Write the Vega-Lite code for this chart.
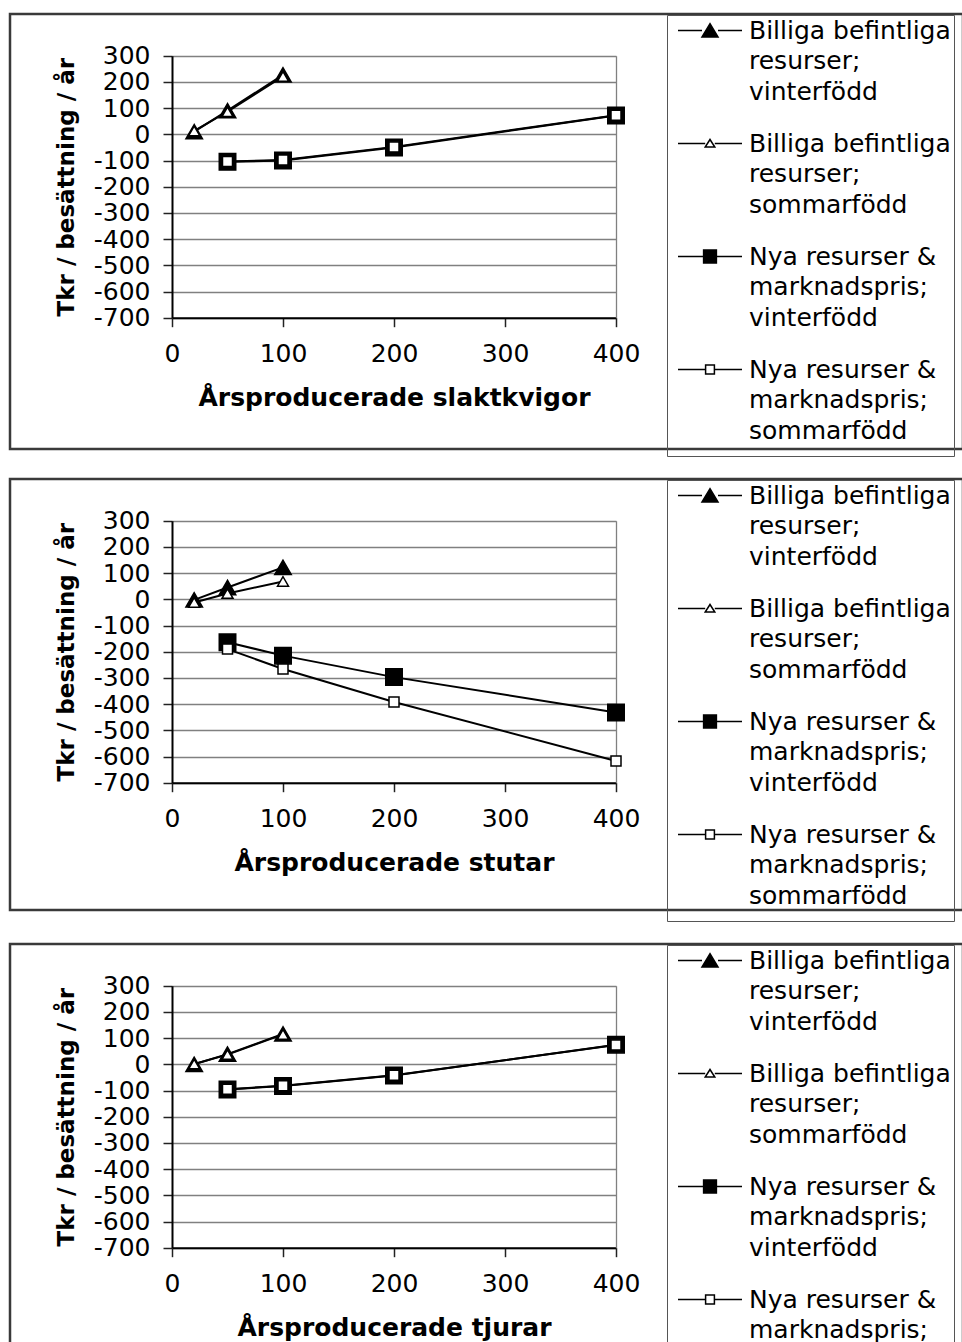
{
  "$schema": "https://vega.github.io/schema/vega-lite/v6.json",
  "background": "white",
  "padding": {"left": 8, "top": 12, "right": 0, "bottom": 0},
  "spacing": 19,
  "resolve": {"scale": {"shape": "independent", "fill": "independent", "stroke": "independent"}, "legend": {"shape": "independent", "fill": "independent", "stroke": "independent"}},
  "config": {
    "font": "DejaVu Sans",
    "view": {"stroke": "#3a3a3a", "strokeWidth": 2.5},
    "style": {"guide-label": {"lineHeight": 30.5}},
    "axis": {
      "labelFont": "DejaVu Sans",
      "labelFontSize": 25,
      "labelColor": "black",
      "labelFlush": false,
      "labelOverlap": false,
      "titleFont": "DejaVu Sans",
      "titleFontWeight": "bold",
      "titleColor": "black",
      "domainColor": "black",
      "domainWidth": 2,
      "tickColor": "#222",
      "tickWidth": 1.5,
      "tickSize": 9,
      "gridColor": "#808080",
      "gridWidth": 1.3
    }
  },
  "datasets": {
    "slaktkvigor": [
      {"serie": "Billiga befintliga resurser; vinterfödd", "antal": 20, "tkr": 10},
      {"serie": "Billiga befintliga resurser; vinterfödd", "antal": 50, "tkr": 90},
      {"serie": "Billiga befintliga resurser; vinterfödd", "antal": 100, "tkr": 227},
      {"serie": "Billiga befintliga resurser; sommarfödd", "antal": 20, "tkr": 13},
      {"serie": "Billiga befintliga resurser; sommarfödd", "antal": 50, "tkr": 86},
      {"serie": "Billiga befintliga resurser; sommarfödd", "antal": 100, "tkr": 221},
      {"serie": "Nya resurser & marknadspris; vinterfödd", "antal": 50, "tkr": -105},
      {"serie": "Nya resurser & marknadspris; vinterfödd", "antal": 100, "tkr": -100},
      {"serie": "Nya resurser & marknadspris; vinterfödd", "antal": 200, "tkr": -50},
      {"serie": "Nya resurser & marknadspris; vinterfödd", "antal": 400, "tkr": 72},
      {"serie": "Nya resurser & marknadspris; sommarfödd", "antal": 50, "tkr": -104},
      {"serie": "Nya resurser & marknadspris; sommarfödd", "antal": 100, "tkr": -98},
      {"serie": "Nya resurser & marknadspris; sommarfödd", "antal": 200, "tkr": -48},
      {"serie": "Nya resurser & marknadspris; sommarfödd", "antal": 400, "tkr": 73}
    ],
    "stutar": [
      {"serie": "Billiga befintliga resurser; vinterfödd", "antal": 20, "tkr": -2},
      {"serie": "Billiga befintliga resurser; vinterfödd", "antal": 50, "tkr": 45},
      {"serie": "Billiga befintliga resurser; vinterfödd", "antal": 100, "tkr": 122},
      {"serie": "Billiga befintliga resurser; sommarfödd", "antal": 20, "tkr": -12},
      {"serie": "Billiga befintliga resurser; sommarfödd", "antal": 50, "tkr": 22},
      {"serie": "Billiga befintliga resurser; sommarfödd", "antal": 100, "tkr": 68},
      {"serie": "Nya resurser & marknadspris; vinterfödd", "antal": 50, "tkr": -164},
      {"serie": "Nya resurser & marknadspris; vinterfödd", "antal": 100, "tkr": -215},
      {"serie": "Nya resurser & marknadspris; vinterfödd", "antal": 200, "tkr": -297},
      {"serie": "Nya resurser & marknadspris; vinterfödd", "antal": 400, "tkr": -432},
      {"serie": "Nya resurser & marknadspris; sommarfödd", "antal": 50, "tkr": -190},
      {"serie": "Nya resurser & marknadspris; sommarfödd", "antal": 100, "tkr": -266},
      {"serie": "Nya resurser & marknadspris; sommarfödd", "antal": 200, "tkr": -392},
      {"serie": "Nya resurser & marknadspris; sommarfödd", "antal": 400, "tkr": -617}
    ],
    "tjurar": [
      {"serie": "Billiga befintliga resurser; vinterfödd", "antal": 20, "tkr": 0},
      {"serie": "Billiga befintliga resurser; vinterfödd", "antal": 50, "tkr": 39},
      {"serie": "Billiga befintliga resurser; vinterfödd", "antal": 100, "tkr": 116},
      {"serie": "Billiga befintliga resurser; sommarfödd", "antal": 20, "tkr": 1},
      {"serie": "Billiga befintliga resurser; sommarfödd", "antal": 50, "tkr": 37},
      {"serie": "Billiga befintliga resurser; sommarfödd", "antal": 100, "tkr": 114},
      {"serie": "Nya resurser & marknadspris; vinterfödd", "antal": 50, "tkr": -96},
      {"serie": "Nya resurser & marknadspris; vinterfödd", "antal": 100, "tkr": -83},
      {"serie": "Nya resurser & marknadspris; vinterfödd", "antal": 200, "tkr": -43},
      {"serie": "Nya resurser & marknadspris; vinterfödd", "antal": 400, "tkr": 75},
      {"serie": "Nya resurser & marknadspris; sommarfödd", "antal": 50, "tkr": -95},
      {"serie": "Nya resurser & marknadspris; sommarfödd", "antal": 100, "tkr": -82},
      {"serie": "Nya resurser & marknadspris; sommarfödd", "antal": 200, "tkr": -42},
      {"serie": "Nya resurser & marknadspris; sommarfödd", "antal": 400, "tkr": 74}
    ]
  },
  "vconcat": [
    {
      "width": 953,
      "height": 435,
      "data": {"name": "slaktkvigor"},
      "encoding": {
        "x": {"field": "antal", "type": "quantitative", "scale": {"domain": [0, 400], "range": [162, 606], "nice": false, "zero": false},
              "axis": {"title": "Årsproducerade slaktkvigor", "offset": -131.3, "values": [0, 100, 200, 300, 400], "grid": false, "labelPadding": 15, "titlePadding": 19, "titleFontSize": 25}}
      },
      "layer": [
        {
          "mark": {"type": "line", "color": "black", "strokeWidth": 2},
          "encoding": {
            "detail": {"field": "serie"},
            "y": {"field": "tkr", "type": "quantitative", "scale": {"domain": [-700, 300], "range": [303.7, 41.7], "nice": false, "zero": false},
                  "axis": {"title": "Tkr / besättning / år", "offset": -162, "values": [-700, -600, -500, -400, -300, -200, -100, 0, 100, 200, 300], "labelExpr": "'' + datum.value", "labelPadding": 13, "titlePadding": 15, "titleFontSize": 23}}
          }
        },
        {
          "transform": [{"filter": "datum.serie === 'Billiga befintliga resurser; vinterfödd'"}],
          "mark": {"type": "point", "shape": "triangle-up", "size": 272, "filled": true, "fill": "black", "opacity": 1, "stroke": "black", "strokeWidth": 1.5},
          "encoding": {
            "y": {"field": "tkr", "type": "quantitative",
                  "axis": {"orient": "right", "offset": -347, "title": null, "labels": false, "ticks": false, "grid": false, "domainColor": "#808080", "domainWidth": 1.3}}
          }
        },
        {
          "transform": [{"filter": "datum.serie === 'Billiga befintliga resurser; sommarfödd'"}],
          "mark": {"type": "point", "shape": "triangle-up", "size": 121, "filled": true, "fill": "white", "opacity": 1, "stroke": "black", "strokeWidth": 1.5},
          "encoding": {"y": {"field": "tkr", "type": "quantitative", "axis": null}}
        },
        {
          "transform": [{"filter": "datum.serie === 'Nya resurser & marknadspris; vinterfödd'"}],
          "mark": {"type": "point", "shape": "square", "size": 272, "filled": true, "fill": "black", "opacity": 1, "stroke": "black", "strokeWidth": 1.5},
          "encoding": {"y": {"field": "tkr", "type": "quantitative", "axis": null}}
        },
        {
          "transform": [{"filter": "datum.serie === 'Nya resurser & marknadspris; sommarfödd'"}],
          "mark": {"type": "point", "shape": "square", "size": 100, "filled": true, "fill": "white", "opacity": 1, "stroke": "black", "strokeWidth": 1.5},
          "encoding": {"y": {"field": "tkr", "type": "quantitative", "axis": null}}
        },
        {
          "mark": {"type": "point", "filled": true, "opacity": 0, "strokeWidth": 1.5},
          "encoding": {
            "y": {"field": "tkr", "type": "quantitative", "axis": null},
            "shape": {"field": "serie", "type": "nominal",
              "scale": {"domain": ["Billiga befintliga resurser; vinterfödd", "Billiga befintliga resurser; sommarfödd", "Nya resurser & marknadspris; vinterfödd", "Nya resurser & marknadspris; sommarfödd"],
                        "range": ["M0,-2.75M0,9.94M-4,0H-1M1,0H4M0,-0.85L1,0.8L-1,0.8Z", "M0,-2.75M0,9.94M-4,0H-0.6M0.6,0H4M0,-0.5L0.6,0.45L-0.6,0.45Z", "M0,-2.75M0,9.94M-4,0H-0.8M0.8,0H4M-0.8,-0.8H0.8V0.8H-0.8Z", "M0,-2.75M0,9.94M-4,0H-0.55M0.55,0H4M-0.55,-0.55H0.55V0.55H-0.55Z"]},
              "legend": {"title": null, "orient": "none", "legendX": 657, "legendY": 1, "padding": 3, "strokeColor": "#555", "labelFont": "DejaVu Sans", "labelFontSize": 25, "labelColor": "black", "labelLimit": 400, "labelBaseline": "middle", "rowPadding": 4, "symbolSize": 256, "symbolStrokeWidth": 1.5, "symbolOpacity": 1, "symbolOffset": 27.5, "labelOffset": 26.5,
                "labelExpr": "[slice(datum.label, 0, lastindexof(slice(datum.label, 0, indexof(datum.label, ';')), ' ')), slice(datum.label, lastindexof(slice(datum.label, 0, indexof(datum.label, ';')), ' ') + 1, indexof(datum.label, ';') + 1), slice(datum.label, indexof(datum.label, ';') + 2)]"}
            },
            "fill": {"field": "serie", "type": "nominal",
              "scale": {"domain": ["Billiga befintliga resurser; vinterfödd", "Billiga befintliga resurser; sommarfödd", "Nya resurser & marknadspris; vinterfödd", "Nya resurser & marknadspris; sommarfödd"], "range": ["black", "white", "black", "white"]},
              "legend": {"title": null, "orient": "none", "legendX": 657, "legendY": 1, "padding": 3, "strokeColor": "#555", "labelFont": "DejaVu Sans", "labelFontSize": 25, "labelColor": "black", "labelLimit": 400, "labelBaseline": "middle", "rowPadding": 4, "symbolSize": 256, "symbolStrokeWidth": 1.5, "symbolOpacity": 1, "symbolOffset": 27.5, "labelOffset": 26.5,
                "labelExpr": "[slice(datum.label, 0, lastindexof(slice(datum.label, 0, indexof(datum.label, ';')), ' ')), slice(datum.label, lastindexof(slice(datum.label, 0, indexof(datum.label, ';')), ' ') + 1, indexof(datum.label, ';') + 1), slice(datum.label, indexof(datum.label, ';') + 2)]"}
            },
            "stroke": {"field": "serie", "type": "nominal",
              "scale": {"domain": ["Billiga befintliga resurser; vinterfödd", "Billiga befintliga resurser; sommarfödd", "Nya resurser & marknadspris; vinterfödd", "Nya resurser & marknadspris; sommarfödd"], "range": ["black", "black", "black", "black"]},
              "legend": {"title": null, "orient": "none", "legendX": 657, "legendY": 1, "padding": 3, "strokeColor": "#555", "labelFont": "DejaVu Sans", "labelFontSize": 25, "labelColor": "black", "labelLimit": 400, "labelBaseline": "middle", "rowPadding": 4, "symbolSize": 256, "symbolStrokeWidth": 1.5, "symbolOpacity": 1, "symbolOffset": 27.5, "labelOffset": 26.5,
                "labelExpr": "[slice(datum.label, 0, lastindexof(slice(datum.label, 0, indexof(datum.label, ';')), ' ')), slice(datum.label, lastindexof(slice(datum.label, 0, indexof(datum.label, ';')), ' ') + 1, indexof(datum.label, ';') + 1), slice(datum.label, indexof(datum.label, ';') + 2)]"}
            }
          }
        }
      ],
      "resolve": {"axis": {"y": "independent"}}
    },
    {
      "width": 953,
      "height": 431,
      "data": {"name": "stutar"},
      "encoding": {
        "x": {"field": "antal", "type": "quantitative", "scale": {"domain": [0, 400], "range": [162, 606], "nice": false, "zero": false},
              "axis": {"title": "Årsproducerade stutar", "offset": -127.3, "values": [0, 100, 200, 300, 400], "grid": false, "labelPadding": 15, "titlePadding": 19, "titleFontSize": 25}}
      },
      "layer": [
        {
          "mark": {"type": "line", "color": "black", "strokeWidth": 2},
          "encoding": {
            "detail": {"field": "serie"},
            "y": {"field": "tkr", "type": "quantitative", "scale": {"domain": [-700, 300], "range": [303.7, 41.7], "nice": false, "zero": false},
                  "axis": {"title": "Tkr / besättning / år", "offset": -162, "values": [-700, -600, -500, -400, -300, -200, -100, 0, 100, 200, 300], "labelExpr": "'' + datum.value", "labelPadding": 13, "titlePadding": 15, "titleFontSize": 23}}
          }
        },
        {
          "transform": [{"filter": "datum.serie === 'Billiga befintliga resurser; vinterfödd'"}],
          "mark": {"type": "point", "shape": "triangle-up", "size": 272, "filled": true, "fill": "black", "opacity": 1, "stroke": "black", "strokeWidth": 1.5},
          "encoding": {
            "y": {"field": "tkr", "type": "quantitative",
                  "axis": {"orient": "right", "offset": -347, "title": null, "labels": false, "ticks": false, "grid": false, "domainColor": "#808080", "domainWidth": 1.3}}
          }
        },
        {
          "transform": [{"filter": "datum.serie === 'Billiga befintliga resurser; sommarfödd'"}],
          "mark": {"type": "point", "shape": "triangle-up", "size": 121, "filled": true, "fill": "white", "opacity": 1, "stroke": "black", "strokeWidth": 1.5},
          "encoding": {"y": {"field": "tkr", "type": "quantitative", "axis": null}}
        },
        {
          "transform": [{"filter": "datum.serie === 'Nya resurser & marknadspris; vinterfödd'"}],
          "mark": {"type": "point", "shape": "square", "size": 272, "filled": true, "fill": "black", "opacity": 1, "stroke": "black", "strokeWidth": 1.5},
          "encoding": {"y": {"field": "tkr", "type": "quantitative", "axis": null}}
        },
        {
          "transform": [{"filter": "datum.serie === 'Nya resurser & marknadspris; sommarfödd'"}],
          "mark": {"type": "point", "shape": "square", "size": 100, "filled": true, "fill": "white", "opacity": 1, "stroke": "black", "strokeWidth": 1.5},
          "encoding": {"y": {"field": "tkr", "type": "quantitative", "axis": null}}
        },
        {
          "mark": {"type": "point", "filled": true, "opacity": 0, "strokeWidth": 1.5},
          "encoding": {
            "y": {"field": "tkr", "type": "quantitative", "axis": null},
            "shape": {"field": "serie", "type": "nominal",
              "scale": {"domain": ["Billiga befintliga resurser; vinterfödd", "Billiga befintliga resurser; sommarfödd", "Nya resurser & marknadspris; vinterfödd", "Nya resurser & marknadspris; sommarfödd"],
                        "range": ["M0,-2.75M0,9.94M-4,0H-1M1,0H4M0,-0.85L1,0.8L-1,0.8Z", "M0,-2.75M0,9.94M-4,0H-0.6M0.6,0H4M0,-0.5L0.6,0.45L-0.6,0.45Z", "M0,-2.75M0,9.94M-4,0H-0.8M0.8,0H4M-0.8,-0.8H0.8V0.8H-0.8Z", "M0,-2.75M0,9.94M-4,0H-0.55M0.55,0H4M-0.55,-0.55H0.55V0.55H-0.55Z"]},
              "legend": {"title": null, "orient": "none", "legendX": 657, "legendY": 1, "padding": 3, "strokeColor": "#555", "labelFont": "DejaVu Sans", "labelFontSize": 25, "labelColor": "black", "labelLimit": 400, "labelBaseline": "middle", "rowPadding": 4, "symbolSize": 256, "symbolStrokeWidth": 1.5, "symbolOpacity": 1, "symbolOffset": 27.5, "labelOffset": 26.5,
                "labelExpr": "[slice(datum.label, 0, lastindexof(slice(datum.label, 0, indexof(datum.label, ';')), ' ')), slice(datum.label, lastindexof(slice(datum.label, 0, indexof(datum.label, ';')), ' ') + 1, indexof(datum.label, ';') + 1), slice(datum.label, indexof(datum.label, ';') + 2)]"}
            },
            "fill": {"field": "serie", "type": "nominal",
              "scale": {"domain": ["Billiga befintliga resurser; vinterfödd", "Billiga befintliga resurser; sommarfödd", "Nya resurser & marknadspris; vinterfödd", "Nya resurser & marknadspris; sommarfödd"], "range": ["black", "white", "black", "white"]},
              "legend": {"title": null, "orient": "none", "legendX": 657, "legendY": 1, "padding": 3, "strokeColor": "#555", "labelFont": "DejaVu Sans", "labelFontSize": 25, "labelColor": "black", "labelLimit": 400, "labelBaseline": "middle", "rowPadding": 4, "symbolSize": 256, "symbolStrokeWidth": 1.5, "symbolOpacity": 1, "symbolOffset": 27.5, "labelOffset": 26.5,
                "labelExpr": "[slice(datum.label, 0, lastindexof(slice(datum.label, 0, indexof(datum.label, ';')), ' ')), slice(datum.label, lastindexof(slice(datum.label, 0, indexof(datum.label, ';')), ' ') + 1, indexof(datum.label, ';') + 1), slice(datum.label, indexof(datum.label, ';') + 2)]"}
            },
            "stroke": {"field": "serie", "type": "nominal",
              "scale": {"domain": ["Billiga befintliga resurser; vinterfödd", "Billiga befintliga resurser; sommarfödd", "Nya resurser & marknadspris; vinterfödd", "Nya resurser & marknadspris; sommarfödd"], "range": ["black", "black", "black", "black"]},
              "legend": {"title": null, "orient": "none", "legendX": 657, "legendY": 1, "padding": 3, "strokeColor": "#555", "labelFont": "DejaVu Sans", "labelFontSize": 25, "labelColor": "black", "labelLimit": 400, "labelBaseline": "middle", "rowPadding": 4, "symbolSize": 256, "symbolStrokeWidth": 1.5, "symbolOpacity": 1, "symbolOffset": 27.5, "labelOffset": 26.5,
                "labelExpr": "[slice(datum.label, 0, lastindexof(slice(datum.label, 0, indexof(datum.label, ';')), ' ')), slice(datum.label, lastindexof(slice(datum.label, 0, indexof(datum.label, ';')), ' ') + 1, indexof(datum.label, ';') + 1), slice(datum.label, indexof(datum.label, ';') + 2)]"}
            }
          }
        }
      ],
      "resolve": {"axis": {"y": "independent"}}
    },
    {
      "width": 953,
      "height": 433,
      "data": {"name": "tjurar"},
      "encoding": {
        "x": {"field": "antal", "type": "quantitative", "scale": {"domain": [0, 400], "range": [162, 606], "nice": false, "zero": false},
              "axis": {"title": "Årsproducerade tjurar", "offset": -129.3, "values": [0, 100, 200, 300, 400], "grid": false, "labelPadding": 15, "titlePadding": 19, "titleFontSize": 25}}
      },
      "layer": [
        {
          "mark": {"type": "line", "color": "black", "strokeWidth": 2},
          "encoding": {
            "detail": {"field": "serie"},
            "y": {"field": "tkr", "type": "quantitative", "scale": {"domain": [-700, 300], "range": [303.7, 41.7], "nice": false, "zero": false},
                  "axis": {"title": "Tkr / besättning / år", "offset": -162, "values": [-700, -600, -500, -400, -300, -200, -100, 0, 100, 200, 300], "labelExpr": "'' + datum.value", "labelPadding": 13, "titlePadding": 15, "titleFontSize": 23}}
          }
        },
        {
          "transform": [{"filter": "datum.serie === 'Billiga befintliga resurser; vinterfödd'"}],
          "mark": {"type": "point", "shape": "triangle-up", "size": 272, "filled": true, "fill": "black", "opacity": 1, "stroke": "black", "strokeWidth": 1.5},
          "encoding": {
            "y": {"field": "tkr", "type": "quantitative",
                  "axis": {"orient": "right", "offset": -347, "title": null, "labels": false, "ticks": false, "grid": false, "domainColor": "#808080", "domainWidth": 1.3}}
          }
        },
        {
          "transform": [{"filter": "datum.serie === 'Billiga befintliga resurser; sommarfödd'"}],
          "mark": {"type": "point", "shape": "triangle-up", "size": 121, "filled": true, "fill": "white", "opacity": 1, "stroke": "black", "strokeWidth": 1.5},
          "encoding": {"y": {"field": "tkr", "type": "quantitative", "axis": null}}
        },
        {
          "transform": [{"filter": "datum.serie === 'Nya resurser & marknadspris; vinterfödd'"}],
          "mark": {"type": "point", "shape": "square", "size": 272, "filled": true, "fill": "black", "opacity": 1, "stroke": "black", "strokeWidth": 1.5},
          "encoding": {"y": {"field": "tkr", "type": "quantitative", "axis": null}}
        },
        {
          "transform": [{"filter": "datum.serie === 'Nya resurser & marknadspris; sommarfödd'"}],
          "mark": {"type": "point", "shape": "square", "size": 100, "filled": true, "fill": "white", "opacity": 1, "stroke": "black", "strokeWidth": 1.5},
          "encoding": {"y": {"field": "tkr", "type": "quantitative", "axis": null}}
        },
        {
          "mark": {"type": "point", "filled": true, "opacity": 0, "strokeWidth": 1.5},
          "encoding": {
            "y": {"field": "tkr", "type": "quantitative", "axis": null},
            "shape": {"field": "serie", "type": "nominal",
              "scale": {"domain": ["Billiga befintliga resurser; vinterfödd", "Billiga befintliga resurser; sommarfödd", "Nya resurser & marknadspris; vinterfödd", "Nya resurser & marknadspris; sommarfödd"],
                        "range": ["M0,-2.75M0,9.94M-4,0H-1M1,0H4M0,-0.85L1,0.8L-1,0.8Z", "M0,-2.75M0,9.94M-4,0H-0.6M0.6,0H4M0,-0.5L0.6,0.45L-0.6,0.45Z", "M0,-2.75M0,9.94M-4,0H-0.8M0.8,0H4M-0.8,-0.8H0.8V0.8H-0.8Z", "M0,-2.75M0,9.94M-4,0H-0.55M0.55,0H4M-0.55,-0.55H0.55V0.55H-0.55Z"]},
              "legend": {"title": null, "orient": "none", "legendX": 657, "legendY": 1, "padding": 3, "strokeColor": "#555", "labelFont": "DejaVu Sans", "labelFontSize": 25, "labelColor": "black", "labelLimit": 400, "labelBaseline": "middle", "rowPadding": 4, "symbolSize": 256, "symbolStrokeWidth": 1.5, "symbolOpacity": 1, "symbolOffset": 27.5, "labelOffset": 26.5,
                "labelExpr": "[slice(datum.label, 0, lastindexof(slice(datum.label, 0, indexof(datum.label, ';')), ' ')), slice(datum.label, lastindexof(slice(datum.label, 0, indexof(datum.label, ';')), ' ') + 1, indexof(datum.label, ';') + 1), slice(datum.label, indexof(datum.label, ';') + 2)]"}
            },
            "fill": {"field": "serie", "type": "nominal",
              "scale": {"domain": ["Billiga befintliga resurser; vinterfödd", "Billiga befintliga resurser; sommarfödd", "Nya resurser & marknadspris; vinterfödd", "Nya resurser & marknadspris; sommarfödd"], "range": ["black", "white", "black", "white"]},
              "legend": {"title": null, "orient": "none", "legendX": 657, "legendY": 1, "padding": 3, "strokeColor": "#555", "labelFont": "DejaVu Sans", "labelFontSize": 25, "labelColor": "black", "labelLimit": 400, "labelBaseline": "middle", "rowPadding": 4, "symbolSize": 256, "symbolStrokeWidth": 1.5, "symbolOpacity": 1, "symbolOffset": 27.5, "labelOffset": 26.5,
                "labelExpr": "[slice(datum.label, 0, lastindexof(slice(datum.label, 0, indexof(datum.label, ';')), ' ')), slice(datum.label, lastindexof(slice(datum.label, 0, indexof(datum.label, ';')), ' ') + 1, indexof(datum.label, ';') + 1), slice(datum.label, indexof(datum.label, ';') + 2)]"}
            },
            "stroke": {"field": "serie", "type": "nominal",
              "scale": {"domain": ["Billiga befintliga resurser; vinterfödd", "Billiga befintliga resurser; sommarfödd", "Nya resurser & marknadspris; vinterfödd", "Nya resurser & marknadspris; sommarfödd"], "range": ["black", "black", "black", "black"]},
              "legend": {"title": null, "orient": "none", "legendX": 657, "legendY": 1, "padding": 3, "strokeColor": "#555", "labelFont": "DejaVu Sans", "labelFontSize": 25, "labelColor": "black", "labelLimit": 400, "labelBaseline": "middle", "rowPadding": 4, "symbolSize": 256, "symbolStrokeWidth": 1.5, "symbolOpacity": 1, "symbolOffset": 27.5, "labelOffset": 26.5,
                "labelExpr": "[slice(datum.label, 0, lastindexof(slice(datum.label, 0, indexof(datum.label, ';')), ' ')), slice(datum.label, lastindexof(slice(datum.label, 0, indexof(datum.label, ';')), ' ') + 1, indexof(datum.label, ';') + 1), slice(datum.label, indexof(datum.label, ';') + 2)]"}
            }
          }
        }
      ],
      "resolve": {"axis": {"y": "independent"}}
    }
  ]
}
